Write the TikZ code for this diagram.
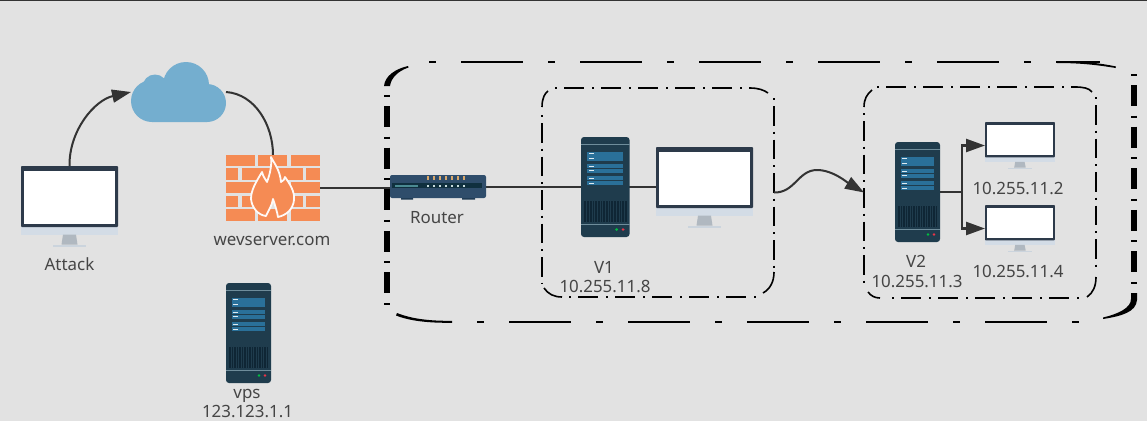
\documentclass[tikz,border=0pt]{standalone}
\usepackage{fontspec}
\setmainfont{Noto Sans}
\usetikzlibrary{arrows.meta}
\definecolor{bg}{HTML}{E2E2E2}
\definecolor{srvbody}{HTML}{1F3C4D}
\definecolor{srvline}{HTML}{6F8D9B}
\definecolor{srvbar}{HTML}{2A7099}
\definecolor{srvdark}{HTML}{0F2635}
\definecolor{monframe}{HTML}{2D3A4A}
\definecolor{monchin}{HTML}{D3DCE6}
\definecolor{monstand}{HTML}{B0B8C0}
\definecolor{monbase}{HTML}{CBD4DD}
\definecolor{brick}{HTML}{F58B54}
\definecolor{cloudblue}{HTML}{74AECF}
\definecolor{rtbody}{HTML}{2F4D6B}
\definecolor{rtdark}{HTML}{10303F}
\definecolor{rtteal}{HTML}{4B8A92}
\definecolor{rtled}{HTML}{D9A86A}
\definecolor{rtfoot}{HTML}{1E3A52}
\definecolor{ink}{HTML}{454545}
\definecolor{wire}{HTML}{333333}
\tikzset{
  x=1pt,y=-1pt,
  iconbox/.style={inner sep=0pt,outer sep=0pt},
  lbl/.style={text=ink,font=\fontsize{16.9}{18}\selectfont,inner sep=0pt,anchor=base},
  wireline/.style={draw=wire,line width=1.6pt},
  curveline/.style={draw=wire,line width=2pt},
  bigtip/.style={-{Triangle[length=19pt,width=13pt]}},
  framev/.style={draw=black,line width=1.5pt,dash pattern=on 2pt off 6pt on 19.5pt off 6pt},
  frameh/.style={draw=black,line width=1.6pt,dash pattern=on 2pt off 7pt on 20pt off 8pt},
  framec/.style={draw=black,line width=1.6pt},
  outerh/.style={draw=black,line width=2pt,dash pattern=on 6.5pt off 25.5pt on 62pt off 25pt},
  outerv/.style={draw=black,line width=6pt,dash pattern=on 2pt off 9pt on 21pt off 9.6pt},
  pics/srv/.style={code={
    \fill[srvbody,rounded corners=3pt] (0,0) rectangle (45,100);
    \fill[srvline] (0,7) rectangle (45,8.4);
    \fill[srvline] (0,86.5) rectangle (45,88);
    \foreach \ya/\yb in {14.5/18.5,19/23.5,27/31,31.5/35.5,39/43,44/48}{
      \fill[srvbar] (6,\ya) rectangle (39,\yb);
      \fill[white!85!srvbar] (7,{(\ya+\yb)/2-.5}) rectangle (12,{(\ya+\yb)/2+.5});
    }
    \fill[srvdark] (2.7,64) rectangle (42.3,85);
    \foreach \sx in {5,7.5,...,41}{\draw[srvbody,line width=.45pt] (\sx,64) -- (\sx,85);}
    \fill[green!50!teal] (33,92.5) circle (1.4);
    \fill[red!60!purple!80!white] (39,92.5) circle (1.4);
  }},
  pics/mon/.style={code={
    \fill[monchin] (0,61) rectangle (97,68.7);
    \fill[monstand] (42,68.7) -- (55,68.7) -- (56.5,78.5) -- (40.5,78.5) -- cycle;
    \fill[monbase] (32,78.5) rectangle (65,81);
    \fill[monframe,rounded corners=.8pt] (0,0) rectangle (97,61);
    \fill[white] (3,5) rectangle (94,57.5);
  }},
}
\begin{document}
\begin{tikzpicture}
\useasboundingbox (0,0) rectangle (1147,421);
\fill[bg] (0,0) rectangle (1147,421);
\fill[black!80] (0,0) rectangle (1147,.9);

% outer frame
\path[outerh] (429,62) -- (1100,62);
\path[outerh] (477,321.8) -- (1090,321.8);
\path[outerv] (386.8,95) -- (386.8,305);
\path[outerv] (1134,74) -- (1134,285);
\fill[black] (384,86) .. controls (385,76) and (395,69) .. (408,66) -- (408.5,67.5) .. controls (398,71) and (391,78) .. (390,86) -- cycle;
\fill[black] (1057,61) .. controls (1080,61) and (1100,63) .. (1116,66.5) -- (1115.5,68) .. controls (1098,65) and (1080,63) .. (1057,63) -- cycle;
\fill[black] (397,313) .. controls (412,319) and (430,321) .. (452,320.8) -- (452,322.8) .. controls (428,323) and (410,321) .. (396,315.5) -- cycle;
\fill[black] (1131,293) -- (1137,293) -- (1137,300) .. controls (1136,312) and (1122,316) .. (1103,319) -- (1103,317.5) .. controls (1118,314) and (1131,308) .. (1131,299) -- cycle;

% V1 frame
\node[iconbox,minimum width=232pt,minimum height=209pt] (v1box) at (658,192.5) {};
\path[framev] (v1box.west |- 0,115) -- (v1box.west |- 0,284);
\path[framev] (v1box.east |- 0,98) -- (v1box.east |- 0,268);
\path[frameh] (555,88) -- (750,88);
\path[frameh] (569,297) -- (760,297);
\draw[framec] (542,107) .. controls (542,98) and (545,93) .. (548,91);
\draw[framec] (544,288) .. controls (548,294) and (554,297) .. (562,297);
\draw[framec] (750,88) .. controls (758,88) and (764,90) .. (768,93);
\draw[framec] (774,272) .. controls (774,282) and (770,289) .. (763,293);

% V2 frame
\node[iconbox,minimum width=232pt,minimum height=211pt] (v2box) at (980,192.5) {};
\path[framev] (v2box.west |- 0,113) -- (v2box.west |- 0,285);
\path[framev] (v2box.east |- 0,97) -- (v2box.east |- 0,268);
\path[frameh] (877,87) -- (1075,87);
\path[frameh] (892,298) -- (1080,298);
\draw[framec] (864,107) .. controls (864,99) and (867,94) .. (872,90);
\draw[framec] (868,292) .. controls (871,296) and (875,298) .. (880,298);
\draw[framec] (1075,87) .. controls (1083,87) and (1089,88) .. (1092,92);
\draw[framec] (1096,277) .. controls (1096,286) and (1093,293) .. (1087,297);

% icon anchors
\node[iconbox,minimum width=97pt,minimum height=81pt] (attack) at (69.5,206.5) {};
\node[iconbox,minimum width=95pt,minimum height=60pt] (cloud) at (178.5,92) {};
\node[iconbox,minimum width=94pt,minimum height=66pt] (fw) at (273,188) {};
\node[iconbox,minimum width=96pt,minimum height=24pt] (router) at (438,187) {};
\node[iconbox,minimum width=48.5pt,minimum height=100pt] (v1srv) at (605.2,187) {};
\node[iconbox,minimum width=97pt,minimum height=81pt] (v1mon) at (704.5,187.5) {};
\node[iconbox,minimum width=45pt,minimum height=100pt] (v2srv) at (917,192) {};
\node[iconbox,minimum width=70pt,minimum height=47pt] (m1) at (1020,145.5) {};
\node[iconbox,minimum width=70pt,minimum height=47pt] (m2) at (1020,228.5) {};
\node[iconbox,minimum width=45pt,minimum height=100pt] (vps) at (248.5,333) {};
\coordinate (trunk) at (962,192);

% connectors
\draw[wireline] (fw.east) -- (fw.east -| router.west);
\draw[wireline] (router.east) -- (router.east -| v1srv.west);
\draw[wireline] (v1srv.east) -- (v1srv.east -| v1mon.west);
\draw[curveline,bigtip] (attack.north) .. controls (69,130) and (95,100) .. (cloud.west);
\draw[curveline] (cloud.east) .. controls (255,94) and (273,125) .. (fw.north);
\draw[curveline,bigtip] (v1box.east) .. controls (795,193) and (798,170) .. (817,170) .. controls (833,170) and (848,183) .. (v2box.west);
\draw[wire,line width=2.4pt,bigtip] (v2srv.east) -- (trunk) |- (m1.west);
\draw[wire,line width=2.4pt,bigtip] (v2srv.east) -- (trunk) |- (m2.west);

% monitors
\pic at (21,166) {mon};
\pic at (656,147) {mon};
\pic[xscale=.72,yscale=.58] at (985,122) {mon};
\pic[xscale=.72,yscale=.58] at (985,205) {mon};

% servers
\pic[xscale=1.078] at (581,137) {srv};
\pic at (895,142) {srv};
\pic at (226,283) {srv};

% cloud
\fill[cloudblue] (152,101) circle (21) (155,87) circle (12.5) (186,85) circle (23) (207,103) circle (19);
\fill[cloudblue] (152,100) rectangle (207,122) (155,90) rectangle (200,104);

% firewall
\foreach \ya/\yb in {155/166,182/193,209/221}{
  \foreach \xa/\xb in {226/255,258/287,291/320}{\fill[brick] (\xa,\ya) rectangle (\xb,\yb);}
}
\foreach \ya/\yb in {168/180,196/207}{
  \foreach \xa/\xb in {226/238,242/271,275/303,306/320}{\fill[brick] (\xa,\ya) rectangle (\xb,\yb);}
}
\filldraw[fill=brick,draw=white!95!brick,line width=1.8pt,line join=round]
  (271,157) .. controls (274,163) and (280,170) .. (281,182)
  .. controls (283,181) and (285,179) .. (285,177)
  .. controls (290,184) and (295,192) .. (294,200)
  .. controls (293,209) and (287,215) .. (278,217)
  .. controls (277,211) and (275,205) .. (273,199)
  .. controls (272,206) and (268,211) .. (266,216)
  .. controls (258,215) and (252,208) .. (251,199)
  .. controls (251,190) and (256,182) .. (262,172)
  .. controls (263,176) and (265,179) .. (267,182)
  .. controls (270,174) and (272,165) .. (271,157) -- cycle;

% router
\fill[rtfoot] (401,196) rectangle (413,199.5) (462,196) rectangle (475,199.5);
\fill[rtbody,rounded corners=2pt] (390,175) rectangle (486,198);
\fill[rtdark] (392,183) rectangle (482,188);
\fill[rtteal] (395,184.5) rectangle (418,187);
\foreach \lx in {428,434,...,468}{
  \fill[rtled] (\lx-.8,176) rectangle (\lx+.8,180);
  \fill[white!70!rtteal] (\lx-.7,185) rectangle (\lx+.7,186.6);
}

% labels
\node[lbl] (tattack) at (69.5,270) {Attack};
\node[lbl] (tfw) at (272,245) {wevserver.com};
\node[lbl] (trouter) at (437,223) {Router};
\node[lbl] (tv1) at (604,273) {V1};
\node[lbl] (tv1ip) at (605,292) {10.255.11.8};
\node[lbl] (tv2) at (916,267) {V2};
\node[lbl] (tv2ip) at (917,287) {10.255.11.3};
\node[lbl] (tm1) at (1018,194) {10.255.11.2};
\node[lbl] (tm2) at (1018,277.5) {10.255.11.4};
\node[lbl] (tvps) at (247,398) {vps};
\node[lbl] (tvpsip) at (247.5,417.5) {123.123.1.1};
\end{tikzpicture}
\end{document}
